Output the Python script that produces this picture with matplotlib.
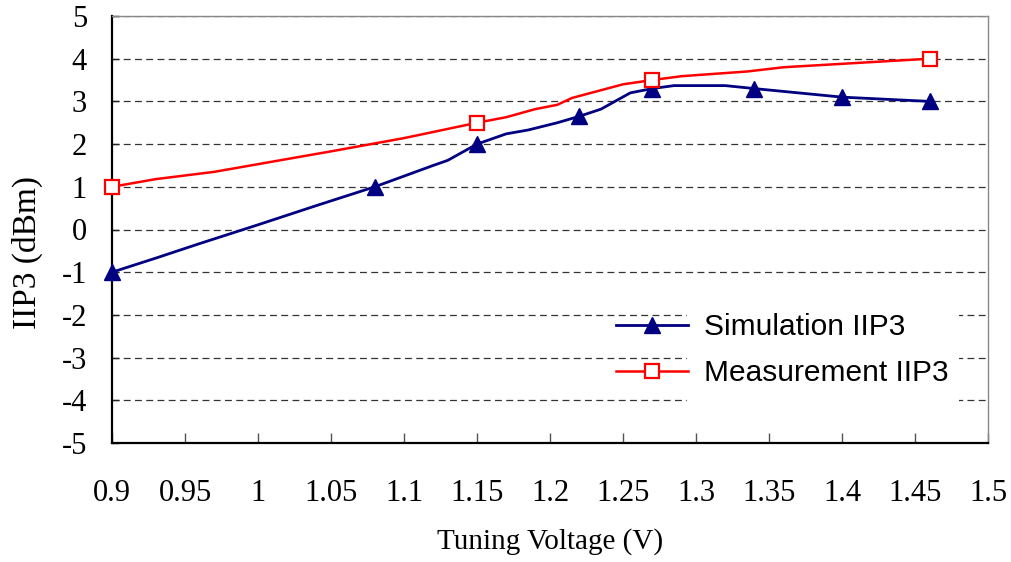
import matplotlib.pyplot as plt
from matplotlib.patches import Rectangle
from matplotlib.ticker import FuncFormatter
import numpy as np

plt.rcParams['axes.unicode_minus'] = False

# simulated IIP3 vs tuning voltage
sim_v = [0.90, 0.93, 0.96, 1.00, 1.04, 1.06, 1.08, 1.10, 1.12, 1.13, 1.15, 1.17,
         1.185, 1.205, 1.22, 1.235, 1.255, 1.27, 1.285, 1.32, 1.34, 1.40, 1.46]
sim_iip3 = [-1.0, -0.67, -0.33, 0.11, 0.56, 0.78, 1.0, 1.25, 1.5, 1.62, 2.0, 2.24,
            2.33, 2.5, 2.65, 2.82, 3.2, 3.3, 3.37, 3.37, 3.3, 3.1, 3.0]
sim_marks = [0, 6, 10, 14, 17, 20, 21, 22]

# measured IIP3
meas_v = [0.90, 0.93, 0.97, 1.00, 1.05, 1.10, 1.15, 1.17, 1.19, 1.205, 1.215,
          1.25, 1.27, 1.29, 1.335, 1.36, 1.46]
meas_iip3 = [1.0, 1.18, 1.35, 1.53, 1.83, 2.14, 2.5, 2.63, 2.82, 2.92, 3.08,
             3.4, 3.5, 3.59, 3.7, 3.8, 4.0]
meas_marks = [0, 6, 12, 16]

xticks = np.round(np.arange(0.9, 1.5001, 0.05), 2)
yticks = np.arange(-5, 6, 1)

serif = 'Liberation Serif'
fig = plt.figure(figsize=(10.12, 5.62), dpi=100)
ax = fig.add_axes([112/1012, 1-443/562, 876/1012, 427/562])

ax.plot(sim_v, sim_iip3, color='#000080', lw=2.0, marker='^', markersize=11,
        markevery=sim_marks, label='Simulation IIP3', zorder=4, clip_on=False)
ax.plot(meas_v, meas_iip3, color='#ff0000', lw=1.8, marker='s', markersize=9.5,
        markerfacecolor='white', markeredgecolor='#ff0000', markeredgewidth=1.6,
        markevery=meas_marks, label='Measurement IIP3', zorder=4, clip_on=False)

ax.set_xlim(0.9, 1.5)
ax.set_ylim(-5, 5)
ax.set_xticks(xticks)
ax.set_yticks(yticks)
ax.xaxis.set_major_formatter(FuncFormatter(lambda v, p: f'{v:g}'))
ax.yaxis.set_major_formatter(FuncFormatter(lambda v, p: f'{v:g}'))
ax.yaxis.grid(True, color='#333333', lw=0.9, linestyle=(0, (5.5, 3.5)))
ax.set_axisbelow(True)

ax.tick_params(axis='x', direction='in', length=7, width=1, color='#555555',
               pad=26, labelsize=22)
ax.tick_params(axis='y', direction='in', length=5, width=1, color='#222222',
               pad=18, labelsize=22)
for lab in ax.get_xticklabels() + ax.get_yticklabels():
    lab.set_fontfamily(serif)

for s in ['left', 'bottom']:
    ax.spines[s].set_linewidth(1.6)
    ax.spines[s].set_color('black')
for s in ['top', 'right']:
    ax.spines[s].set_linewidth(1.0)
    ax.spines[s].set_color('#888888')

ax.set_xlabel('Tuning Voltage (V)', fontsize=21, fontfamily=serif)
ax.xaxis.set_label_coords(0.5, -0.23)
ax.xaxis.label.set_va('center')
ax.set_ylabel('IIP3 (dBm)', fontsize=24, fontfamily=serif)
ax.yaxis.set_label_coords(-0.097, 0.445)
ax.yaxis.label.set_va('center')

# white box behind the legend text hides the grid there
ax.add_patch(Rectangle(((687-112)/876, (443-412)/427), 272/876, 112/427,
                       transform=ax.transAxes, facecolor='white',
                       edgecolor='none', zorder=2))
ax.legend(loc='center left', bbox_to_anchor=(616/1012, 1-350/562),
          bbox_transform=fig.transFigure, frameon=False, borderpad=0,
          borderaxespad=0, handlelength=2.4, handletextpad=0.55,
          labelspacing=0.6, prop={'family': 'Liberation Sans', 'size': 21.5})

fig.savefig('out.png', dpi=100)
